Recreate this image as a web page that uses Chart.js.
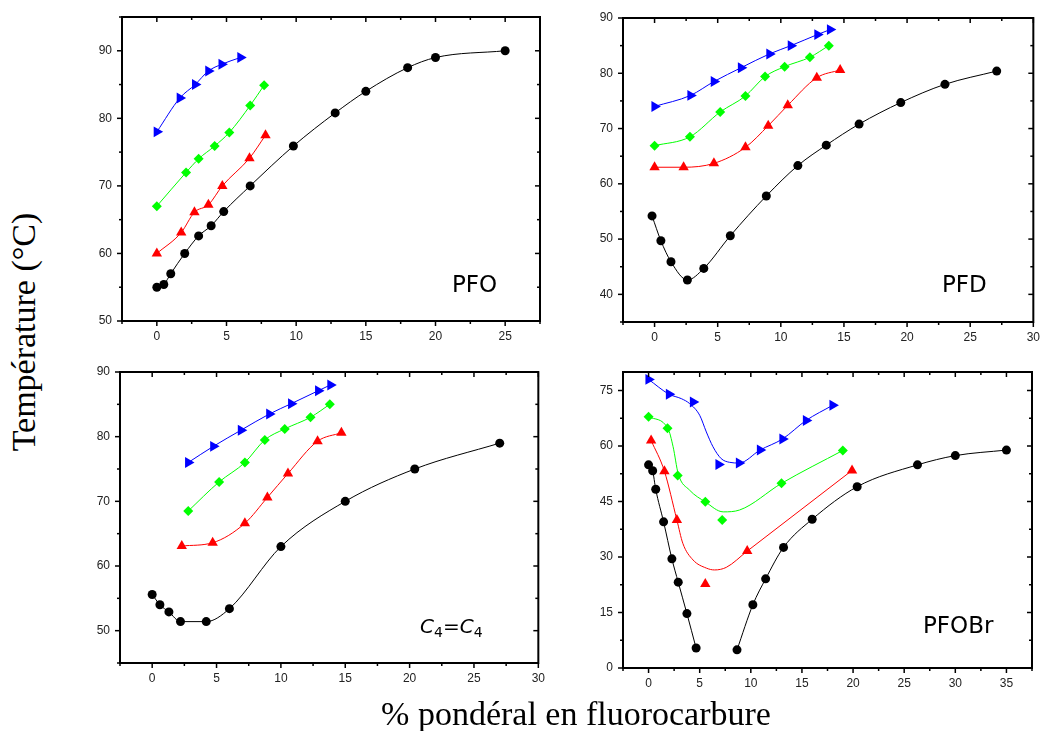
<!DOCTYPE html>
<html lang="fr">
<head>
<meta charset="utf-8">
<title>Température en fonction du % pondéral en fluorocarbure</title>
<script src="https://cdn.jsdelivr.net/npm/chart.js@4.4.1/dist/chart.umd.min.js"></script>
<style>
  body { margin: 0; background: #fff; }
  #figure { position: relative; width: 1044px; height: 731px; overflow: hidden; background: #fff; }
  #figure canvas { position: absolute; }
  .titre { position: absolute; font-family: 'Liberation Serif', 'Times New Roman', serif; font-size: 34px; line-height: 40px; height: 40px; text-align: center; color: #000; white-space: nowrap; }
  .nom { position: absolute; font-family: 'DejaVu Sans', sans-serif; font-size: 23px; line-height: 23px; color: #000; white-space: nowrap; }
  .ind { font-size: 14px; position: relative; top: 4px; font-style: normal; }
</style>
</head>
<body>
<div id="figure">
  <canvas id="pfo"></canvas>
  <canvas id="pfd"></canvas>
  <canvas id="c4c4"></canvas>
  <canvas id="pfobr"></canvas>
  <div class="titre" style="left:-126px; top:312px; width:300px; transform:rotate(-90deg)">Température (°C)</div>
  <div class="titre" style="left:326px; top:694px; width:500px">% pondéral en fluorocarbure</div>
  <div class="nom" style="left:452px; top:273px">PFO</div>
  <div class="nom" style="left:942px; top:273px">PFD</div>
  <div class="nom" style="left:420px; top:616px; font-size:20px; line-height:20px"><i>C</i><span class="ind">4</span>=<i>C</i><span class="ind">4</span></div>
  <div class="nom" style="left:923px; top:614px">PFOBr</div>
</div>
<script>
// ---- PFO ----
const pfoNoirX = [0, 0.5, 1, 2, 3, 3.9, 4.8, 6.7, 9.8, 12.8, 15, 18, 20, 25]
const pfoNoirY = [55, 55.4, 57, 60, 62.6, 64.1, 66.2, 70, 75.9, 80.8, 84, 87.5, 89, 90]
const pfoRougeX = [0, 1.75, 2.7, 3.7, 4.7, 6.65, 7.8]
const pfoRougeY = [60, 63.1, 66.1, 67.2, 70, 74.1, 77.5]
const pfoVertX = [0, 2.1, 3, 4.15, 5.2, 6.7, 7.7]
const pfoVertY = [67, 72, 74, 75.9, 77.9, 81.9, 84.9]
const pfoBleuX = [0, 1.65, 2.75, 3.7, 4.65, 6]
const pfoBleuY = [78, 83, 85, 87, 88, 89]

// ---- PFD ----
const pfdNoirX = [-0.2, 0.5, 1.3, 2.6, 3.9, 6, 8.85, 11.35, 13.6, 16.2, 19.5, 23, 27.1]
const pfdNoirY = [54.2, 49.7, 45.9, 42.6, 44.7, 50.6, 57.8, 63.3, 67, 70.8, 74.7, 78, 80.4]
const pfdRougeX = [0, 2.3, 4.7, 7.2, 9, 10.55, 12.85, 14.7]
const pfdRougeY = [63, 63, 63.7, 66.6, 70.5, 74.2, 79.2, 80.6]
const pfdVertX = [0, 2.8, 5.2, 7.2, 8.75, 10.3, 12.3, 13.8]
const pfdVertY = [66.9, 68.5, 73, 75.9, 79.4, 81.2, 82.9, 85]
const pfdBleuX = [0, 2.85, 4.7, 6.85, 9.1, 10.8, 12.9, 13.9]
const pfdBleuY = [74, 76, 78.5, 81, 83.5, 85, 87, 87.9]

// ---- C4=C4 ----
const c4NoirX = [0, 0.6, 1.3, 2.2, 4.2, 6, 10, 15, 20.4, 27]
const c4NoirY = [55.6, 54, 52.9, 51.4, 51.4, 53.4, 63, 70, 75, 79]
const c4RougeX = [2.3, 4.7, 7.2, 8.95, 10.55, 12.85, 14.7]
const c4RougeY = [63.1, 63.6, 66.6, 70.6, 74.3, 79.3, 80.6]
const c4VertX = [2.8, 5.2, 7.2, 8.75, 10.3, 12.3, 13.8]
const c4VertY = [68.5, 73, 76, 79.5, 81.2, 83, 85]
const c4BleuX = [2.8, 4.75, 6.9, 9.1, 10.8, 12.9, 13.85]
const c4BleuY = [76, 78.5, 81, 83.5, 85.1, 87.1, 88]

const brNoirBasX = [0, 0.4, 0.7, 1.47, 2.28, 2.9, 3.75, 4.65]
const brNoirBasY = [54.9, 53.3, 48.3, 39.5, 29.5, 23.2, 14.7, 5.4]
const brNoirHautX = [8.65, 10.2, 11.45, 13.2, 16, 20.4, 26.3, 30, 35]
const brNoirHautY = [4.9, 17.1, 24.1, 32.6, 40.2, 49, 54.9, 57.4, 58.9]
const brRougeX = [0.25, 1.55, 2.77, 5.55, 9.65, 19.9]
const brRougeY = [61.5, 53.2, 40, 22.7, 31.6, 53.4]
const brRougeFitX = [0.25, 1.55, 2.77, 3.35, 4.35, 5.65, 6.45, 7.6, 9.65, 19.9]
const brRougeFitY = [61.5, 53.2, 40, 33.7, 29.2, 27, 26.5, 27.2, 31.6, 53.4]
const brVertX = [0, 1.85, 2.85, 5.55, 7.2, 13, 19]
const brVertY = [67.9, 64.8, 52, 44.9, 40, 49.9, 58.8]
const brVertFitX = [0, 1.9, 2.4, 2.9, 4, 5.55, 7.3, 8.9, 13, 19]
const brVertFitY = [67.9, 64.7, 59.8, 52.5, 48.1, 44.9, 42.2, 42.7, 49.9, 58.8]
const brBleuX = [0, 2, 4.35, 6.85, 8.85, 10.9, 13.1, 15.4, 18]
const brBleuY = [78, 74, 71.9, 55, 55.4, 58.9, 61.9, 66.9, 71]
const brBleuFitX = [0, 2, 3.2, 4, 5, 5.65, 6.3, 7.1, 7.9, 8.85, 10.9, 13.1, 15.4, 18]
const brBleuFitY = [78, 74, 72.8, 71.5, 68.3, 63.8, 59.8, 56.6, 55.6, 55.4, 58.9, 61.9, 66.9, 71]

// graduations
const ticksX25 = [0, 5, 10, 15, 20, 25]
const ticksX30 = [0, 5, 10, 15, 20, 25, 30]
const ticksX35 = [0, 5, 10, 15, 20, 25, 30, 35]
const ticksY50 = [50, 60, 70, 80, 90]
const ticksY40 = [40, 50, 60, 70, 80, 90]
const ticksYbr = [0, 15, 30, 45, 60, 75]

const styles = {
    noir: { color: '#000000', forme: 'circle', rayon: 4.5, rot: 0 },
    rouge: { color: '#ff0000', forme: 'triangle', rayon: 6, rot: 0 },
    vert: { color: '#00ff00', forme: 'rectRot', rayon: 5, rot: 0 },
    bleu: { color: '#0000ff', forme: 'triangle', rayon: 6.3, rot: 90 }
}

function points(xs, ys) {
    return xs.map((x, i) => ({ x: x, y: ys[i] }))
}

// ligne + marqueurs (ou l'un des deux)
function serie(xs, ys, st, ligne, marques) {
    return {
        data: points(xs, ys),
        showLine: ligne,
        borderColor: st.color,
        borderWidth: 1,
        backgroundColor: st.color,
        pointStyle: st.forme,
        pointRadius: marques ? st.rayon : 0,
        pointRotation: st.rot,
        pointBorderWidth: 0,
        tension: 0.4,
        cubicInterpolationMode: 'monotone'
    }
}

function mineurs(min, max, majeurs) {
    const pas = (majeurs[1] - majeurs[0]) / 2
    const res = []
    for (let v = majeurs[0] - pas; v <= max + 1e-9; v += 2 * pas) {
        if (v >= min - 1e-9) res.push(v)
    }
    return res
}

// cadre fermé + graduations (sortantes à gauche/en bas, rentrantes en haut/à droite)
const cadre = {
    id: 'cadre',
    afterDraw(chart) {
        const g = chart.$grad
        const ctx = chart.ctx
        const a = chart.chartArea
        const sx = chart.scales.x, sy = chart.scales.y
        ctx.save()
        ctx.strokeStyle = '#000'
        ctx.lineWidth = 1.5
        const trait = (x1, y1, x2, y2) => { ctx.beginPath(); ctx.moveTo(x1, y1); ctx.lineTo(x2, y2); ctx.stroke() }
        const tx = (vals, l) => vals.forEach(v => {
            const p = sx.getPixelForValue(v)
            trait(p, a.bottom, p, a.bottom + l)
            trait(p, a.top, p, a.top + l)
        })
        const ty = (vals, l) => vals.forEach(v => {
            const p = sy.getPixelForValue(v)
            trait(a.left - l, p, a.left, p)
            trait(a.right - l, p, a.right, p)
        })
        tx(g.xMaj, 5); tx(g.xMin, 3)
        ty(g.yMaj, 5); ty(g.yMin, 3)
        ctx.lineWidth = 2
        ctx.strokeRect(a.left, a.top, a.right - a.left, a.bottom - a.top)
        ctx.restore()
    }
}

const police = { family: "'Liberation Sans', Arial, sans-serif", size: 12 }
const HAUT = 22   // marge au-dessus de la zone de tracé dans chaque canvas

function panneau(id, zone, xMin, xMax, xTicks, yMin, yMax, yTicks, datasets) {
    const canvas = document.getElementById(id)
    const w = zone.w + 40 + 12, h = zone.h + HAUT + 30
    canvas.width = w; canvas.height = h
    canvas.style.width = w + 'px'; canvas.style.height = h + 'px'
    canvas.style.left = (zone.left - 40) + 'px'
    canvas.style.top = (zone.top - HAUT) + 'px'
    const chart = new Chart(canvas, {
        type: 'scatter',
        data: { datasets: datasets },
        options: {
            responsive: false,
            animation: false,
            events: [],
            layout: { padding: { left: 0, top: HAUT, right: 12, bottom: 0 } },
            plugins: { legend: { display: false }, tooltip: { enabled: false } },
            scales: {
                x: {
                    type: 'linear', min: xMin, max: xMax,
                    grid: { display: false, drawTicks: false },
                    border: { display: false },
                    ticks: { font: police, color: '#222', padding: 8, maxRotation: 0, autoSkip: false },
                    afterBuildTicks: s => { s.ticks = xTicks.map(v => ({ value: v })) },
                    afterFit: s => { s.height = 30 }
                },
                y: {
                    type: 'linear', min: yMin, max: yMax,
                    grid: { display: false, drawTicks: false },
                    border: { display: false },
                    ticks: { font: police, color: '#222', padding: 10, autoSkip: false },
                    afterBuildTicks: s => { s.ticks = yTicks.map(v => ({ value: v })) },
                    afterFit: s => { s.width = 40 }
                }
            }
        },
        plugins: [{
            id: 'grad',
            beforeInit(c) {
                c.$grad = { xMaj: xTicks, xMin: mineurs(xMin, xMax, xTicks), yMaj: yTicks, yMin: mineurs(yMin, yMax, yTicks) }
            }
        }, cadre]
    })
    return chart
}

panneau('pfo', { left: 122, top: 17, w: 418, h: 304 }, -2.5, 27.5, ticksX25, 50, 95, ticksY50, [
    serie(pfoBleuX, pfoBleuY, styles.bleu, true, true),
    serie(pfoVertX, pfoVertY, styles.vert, true, true),
    serie(pfoRougeX, pfoRougeY, styles.rouge, true, true),
    serie(pfoNoirX, pfoNoirY, styles.noir, true, true)
])

panneau('pfd', { left: 623, top: 18, w: 413, h: 304 }, -2.5, 30, ticksX30, 35, 90, ticksY40, [
    serie(pfdBleuX, pfdBleuY, styles.bleu, true, true),
    serie(pfdVertX, pfdVertY, styles.vert, true, true),
    serie(pfdRougeX, pfdRougeY, styles.rouge, true, true),
    serie(pfdNoirX, pfdNoirY, styles.noir, true, true)
])

panneau('c4c4', { left: 120, top: 372, w: 421, h: 291 }, -2.5, 30, ticksX30, 45, 90, ticksY50, [
    serie(c4BleuX, c4BleuY, styles.bleu, true, true),
    serie(c4VertX, c4VertY, styles.vert, true, true),
    serie(c4RougeX, c4RougeY, styles.rouge, true, true),
    serie(c4NoirX, c4NoirY, styles.noir, true, true)
])

panneau('pfobr', { left: 623, top: 372, w: 409, h: 296 }, -2.5, 37.5, ticksX35, 0, 80, ticksYbr, [
    serie(brBleuFitX, brBleuFitY, styles.bleu, true, false),
    serie(brBleuX, brBleuY, styles.bleu, false, true),
    serie(brVertFitX, brVertFitY, styles.vert, true, false),
    serie(brVertX, brVertY, styles.vert, false, true),
    serie(brRougeFitX, brRougeFitY, styles.rouge, true, false),
    serie(brRougeX, brRougeY, styles.rouge, false, true),
    serie(brNoirBasX, brNoirBasY, styles.noir, true, true),
    serie(brNoirHautX, brNoirHautY, styles.noir, true, true)
])
</script>
</body>
</html>
